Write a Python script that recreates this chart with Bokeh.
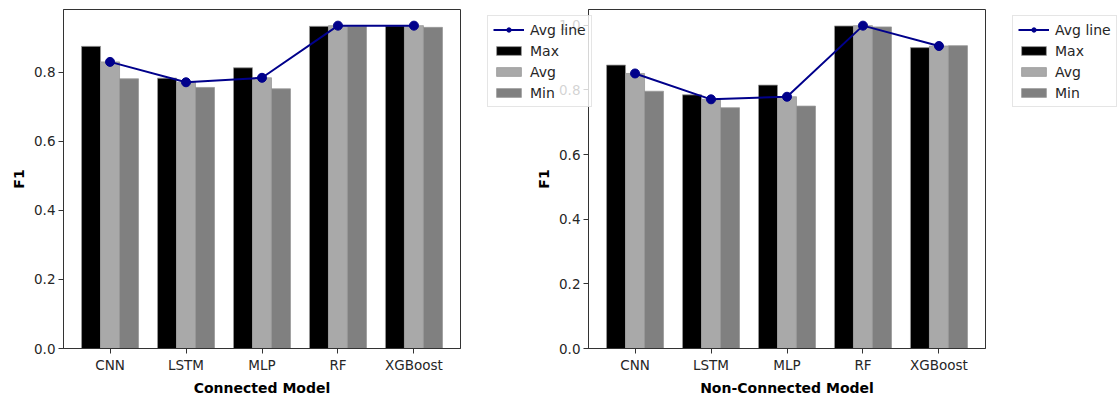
import numpy as np
from bokeh.plotting import figure
from bokeh.models import ColumnDataSource, Range1d, FixedTicker, Legend, LegendItem
from bokeh.transform import dodge
from bokeh.layouts import row
from bokeh.embed import file_html
from bokeh.resources import INLINE

models = ["CNN", "LSTM", "MLP", "RF", "XGBoost"]
conn_max = [0.875, 0.783, 0.813, 0.933, 0.934]
conn_avg = [0.830, 0.771, 0.784, 0.935, 0.935]
conn_min = [0.781, 0.756, 0.752, 0.933, 0.930]
nonconn_max = [0.877, 0.785, 0.815, 0.998, 0.931]
nonconn_avg = [0.851, 0.771, 0.779, 0.999, 0.936]
nonconn_min = [0.796, 0.745, 0.750, 0.995, 0.937]
y_ticks = [0.0, 0.2, 0.4, 0.6, 0.8, 1.0]
series_labels = ["Avg line", "Max", "Avg", "Min"]

FONT = "DejaVu Sans"
BAR_EDGE = dict(line_color="#999999", line_width=0.8)
MAX_STYLE = dict(fill_color="black", **BAR_EDGE)
AVG_STYLE = dict(fill_color="#a9a9a9", **BAR_EDGE)
MIN_STYLE = dict(fill_color="#808080", **BAR_EDGE)
LINE_STYLE = dict(line_color="#00008b", line_width=2)
PT_STYLE = dict(fill_color="#00008b", line_color="#00008b")


def make_fig(xlabel, vmax, vavg, vmin, border_left, margin, styles):
    xs = list(range(len(models)))
    src = ColumnDataSource(dict(x=xs, mx=vmax, av=vavg, mn=vmin))
    top = max(vmax + vavg + vmin) * 1.05
    p = figure(frame_width=397, frame_height=339, output_backend="svg",
               toolbar_location=None, x_range=Range1d(-0.6125, 4.6125),
               y_range=Range1d(0, top), min_border_left=border_left,
               min_border_right=10, min_border_top=9, min_border_bottom=40,
               margin=margin, styles=styles)
    p.background_fill_color = "white"
    p.border_fill_alpha = 0
    p.outline_line_color = "#333333"
    p.outline_line_width = 1
    p.grid.visible = False

    p.vbar(x=dodge("x", -0.25), top="mx", width=0.25, source=src, **MAX_STYLE)
    p.vbar(x="x", top="av", width=0.25, source=src, **AVG_STYLE)
    p.vbar(x=dodge("x", 0.25), top="mn", width=0.25, source=src, **MIN_STYLE)
    p.line(x="x", y="av", source=src, **LINE_STYLE)
    p.scatter(x="x", y="av", source=src, size=9, **PT_STYLE)

    p.xaxis.ticker = FixedTicker(ticks=xs)
    p.xaxis.major_label_overrides = {i: m for i, m in enumerate(models)}
    p.yaxis.ticker = FixedTicker(ticks=y_ticks)
    p.yaxis.major_label_overrides = {t: f"{t:.1f}" for t in y_ticks}
    for ax in (p.xaxis[0], p.yaxis[0]):
        ax.axis_line_color = "#333333"
        ax.major_tick_line_color = "#333333"
        ax.major_tick_out = 5
        ax.major_tick_in = 0
        ax.minor_tick_line_color = None
        ax.major_label_text_font = FONT
        ax.major_label_text_font_size = "13.5px"
        ax.major_label_text_color = "#262626"
        ax.major_label_standoff = 3
        ax.axis_label_text_font = FONT
        ax.axis_label_text_font_size = "14px"
        ax.axis_label_text_font_style = "bold"
        ax.axis_label_text_color = "black"
        ax.axis_label_standoff = 4
    p.xaxis.axis_label = xlabel
    p.yaxis.axis_label = "F1"
    return p, src


def make_legend(src, fwidth, margin, styles):
    # legend-only panel (matplotlib legend placed outside the axes);
    # its renderers share the data but are hidden, only their legend glyphs show
    lf = figure(frame_width=fwidth, frame_height=339, output_backend="svg",
                toolbar_location=None, x_range=Range1d(-0.6125, 4.6125),
                y_range=Range1d(10, 11), x_axis_type=None, y_axis_type=None,
                min_border_left=0, min_border_right=0, min_border_top=9,
                min_border_bottom=46, margin=margin, styles=styles)
    lf.grid.visible = False
    lf.outline_line_color = None
    lf.background_fill_alpha = 0
    lf.border_fill_alpha = 0
    r_line = lf.line(x="x", y="av", source=src, **LINE_STYLE)
    r_pts = lf.scatter(x="x", y="av", source=src, size=9, **PT_STYLE)
    r_max = lf.vbar(x="x", top="mx", width=0.25, source=src, **MAX_STYLE)
    r_avg = lf.vbar(x="x", top="av", width=0.25, source=src, **AVG_STYLE)
    r_min = lf.vbar(x="x", top="mn", width=0.25, source=src, **MIN_STYLE)
    for r in (r_line, r_pts, r_max, r_avg, r_min):
        r.visible = False
    legend = Legend(items=[
        LegendItem(label=series_labels[0], renderers=[r_line, r_pts]),
        LegendItem(label=series_labels[1], renderers=[r_max]),
        LegendItem(label=series_labels[2], renderers=[r_avg]),
        LegendItem(label=series_labels[3], renderers=[r_min]),
    ], location="top_left", margin=6)
    legend.label_text_font = FONT
    legend.label_text_font_size = "14px"
    legend.label_text_color = "#262626"
    legend.label_height = 17
    legend.glyph_height = 11
    legend.glyph_width = 31
    legend.label_standoff = 6
    legend.spacing = 4
    legend.padding = 5
    legend.inactive_fill_alpha = 0
    legend.border_line_color = "#cccccc"
    legend.background_fill_color = "white"
    legend.background_fill_alpha = 0.8
    lf.add_layout(legend, "center")
    return lf


p1, s1 = make_fig("Connected Model", conn_max, conn_avg, conn_min, 63, 0,
                  {"position": "relative", "z-index": "1"})
l1 = make_legend(s1, 112, (0, 0, 0, 11), {"position": "relative", "z-index": "3"})
p2, s2 = make_fig("Non-Connected Model", nonconn_max, nonconn_avg, nonconn_min, 58,
                  (0, 0, 0, -63), {"position": "relative", "z-index": "2"})
l2 = make_legend(s2, 112, (0, 0, 0, 11), {"position": "relative", "z-index": "3"})

layout = row(p1, l1, p2, l2)
open("out.html", "w").write(file_html(layout, INLINE))
